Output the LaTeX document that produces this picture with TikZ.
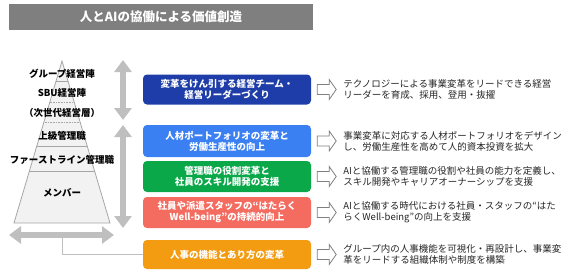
\documentclass[tikz,border=0pt]{standalone}
\usepackage{fontspec}
\setmainfont{Noto Sans CJK JP}
\usepackage{xcolor}
\usetikzlibrary{positioning,arrows.meta}

\definecolor{titlegray}{HTML}{7F7F7F}
\definecolor{arrowgray}{HTML}{BFBFBF}
\definecolor{pyrfill}{HTML}{F2F2F2}
\definecolor{pyrline}{HTML}{A6A6A6}
\definecolor{txtgray}{HTML}{262626}
\definecolor{cDarkBlue}{HTML}{1F3DA8}
\definecolor{cBlue}{HTML}{3A80F2}
\definecolor{cGreen}{HTML}{0BA84A}
\definecolor{cRed}{HTML}{F46B5F}
\definecolor{cOrange}{HTML}{F39C12}

\begin{document}
\begin{tikzpicture}[x=1pt,y=-1pt,font=\fontsize{9.5}{11}\selectfont,
  box/.style={rounded corners=4pt,text=white,font=\fontsize{9.5}{11}\selectfont\bfseries,
    minimum width=168pt,minimum height=30pt,align=center,inner sep=0pt},
  desc/.style={anchor=west,align=left,text=txtgray,inner sep=0pt},
  level/.style={font=\fontsize{9.5}{11}\selectfont\bfseries,inner sep=0pt},
  bigarrow/.style={draw=arrowgray,line width=6.5pt,
    {Triangle[width=17pt,length=12pt]}-{Triangle[width=17pt,length=12pt]}},
  hollow/.style={draw=titlegray,fill=white,line width=0.8pt,line join=miter},
  link/.style={draw=arrowgray,line width=1pt}]
  \useasboundingbox (0,0) rectangle (567,273);

  % title
  \node[fill=titlegray,minimum width=304pt,minimum height=26pt,inner sep=0pt,
    text=white,font=\fontsize{12.5}{14}\selectfont\bfseries] (title) at (161,17) {人とAIの協働による価値創造};

  % pyramid
  \coordinate (apex) at (62,61);
  \coordinate (bl) at (14,223);
  \coordinate (br) at (110,223);
  \filldraw[fill=pyrfill,draw=pyrline,line width=0.8pt] (apex) -- (br) -- (bl) -- cycle;
  \begin{scope}
    \clip (apex) -- (br) -- (bl) -- cycle;
    \draw[pyrline,line width=0.6pt] (0,81) -- (120,81);
    \draw[pyrline,line width=0.6pt,densely dotted] (0,102) -- (120,102);
    \draw[pyrline,line width=0.6pt,densely dotted] (0,122) -- (120,122);
    \draw[pyrline,line width=0.6pt] (0,146) -- (120,146);
    \draw[pyrline,line width=0.6pt] (0,171) -- (120,171);
  \end{scope}
  \node[level] (lv1) at (62,74) {グループ経営陣};
  \node[level] (lv2) at (62,93) {SBU経営陣};
  \node[level] (lv3) at (62,113) {（次世代経営層）};
  \node[level] (lv4) at (62,136) {上級管理職};
  \node[level] (lv5) at (62,160) {ファーストライン管理職};
  \node[level] (lv6) at (62,193) {メンバー};

  % gray arrows
  \coordinate (va1) at (123,60);  \coordinate (vb1) at (123,120);
  \coordinate (va2) at (123,125); \coordinate (vb2) at (123,228);
  \coordinate (ha) at (9,235);    \coordinate (hb) at (114,235);
  \draw[bigarrow] (va1) -- (vb1);
  \draw[bigarrow] (va2) -- (vb2);
  \draw[bigarrow] (ha) -- (hb);

  % boxes
  \node[box,fill=cDarkBlue] (b1) at (227,89.5) {変革をけん引する経営チーム・\\経営リーダーづくり};
  \node[box,fill=cBlue,minimum height=32pt] (b2) at (227,141) {人材ポートフォリオの変革と\\労働生産性の向上};
  \node[box,fill=cGreen,minimum height=31pt] (b3) at (227,176.5) {管理職の役割変革と\\社員のスキル開発の支援};
  \node[box,fill=cRed,minimum height=31pt] (b4) at (227,212.5) {社員や派遣スタッフの“はたらく\\Well-being”の持続的向上};
  \node[box,fill=cOrange,minimum height=29pt] (b5) at (227,254.5) {人事の機能とあり方の変革};

  \coordinate (hm) at (62,238);
  \draw[link] (hm) |- (b5.west);

  % hollow arrows
  \foreach \b in {b1,b2,b3,b4,b5}
    \draw[hollow,shift={(\b.east)}] (6,-5) -- (18,-5) -- (18,-10) -- (25,0) -- (18,10) -- (18,5) -- (6,5) -- cycle;

  % descriptions
  \node[desc,right=32pt of b1] (d1) {テクノロジーによる事業変革をリードできる経営\\リーダーを育成、採用、登用・抜擢};
  \node[desc,right=32pt of b2] (d2) {事業変革に対応する人材ポートフォリオをデザイン\\し、労働生産性を高めて人的資本投資を拡大};
  \node[desc,right=32pt of b3] (d3) {AIと協働する管理職の役割や社員の能力を定義し、\\スキル開発やキャリアオーナーシップを支援};
  \node[desc,right=32pt of b4] (d4) {AIと協働する時代における社員・スタッフの“はた\\らくWell-being”の向上を支援};
  \node[desc,right=32pt of b5] (d5) {グループ内の人事機能を可視化・再設計し、事業変\\革をリードする組織体制や制度を構築};
\end{tikzpicture}
\end{document}
